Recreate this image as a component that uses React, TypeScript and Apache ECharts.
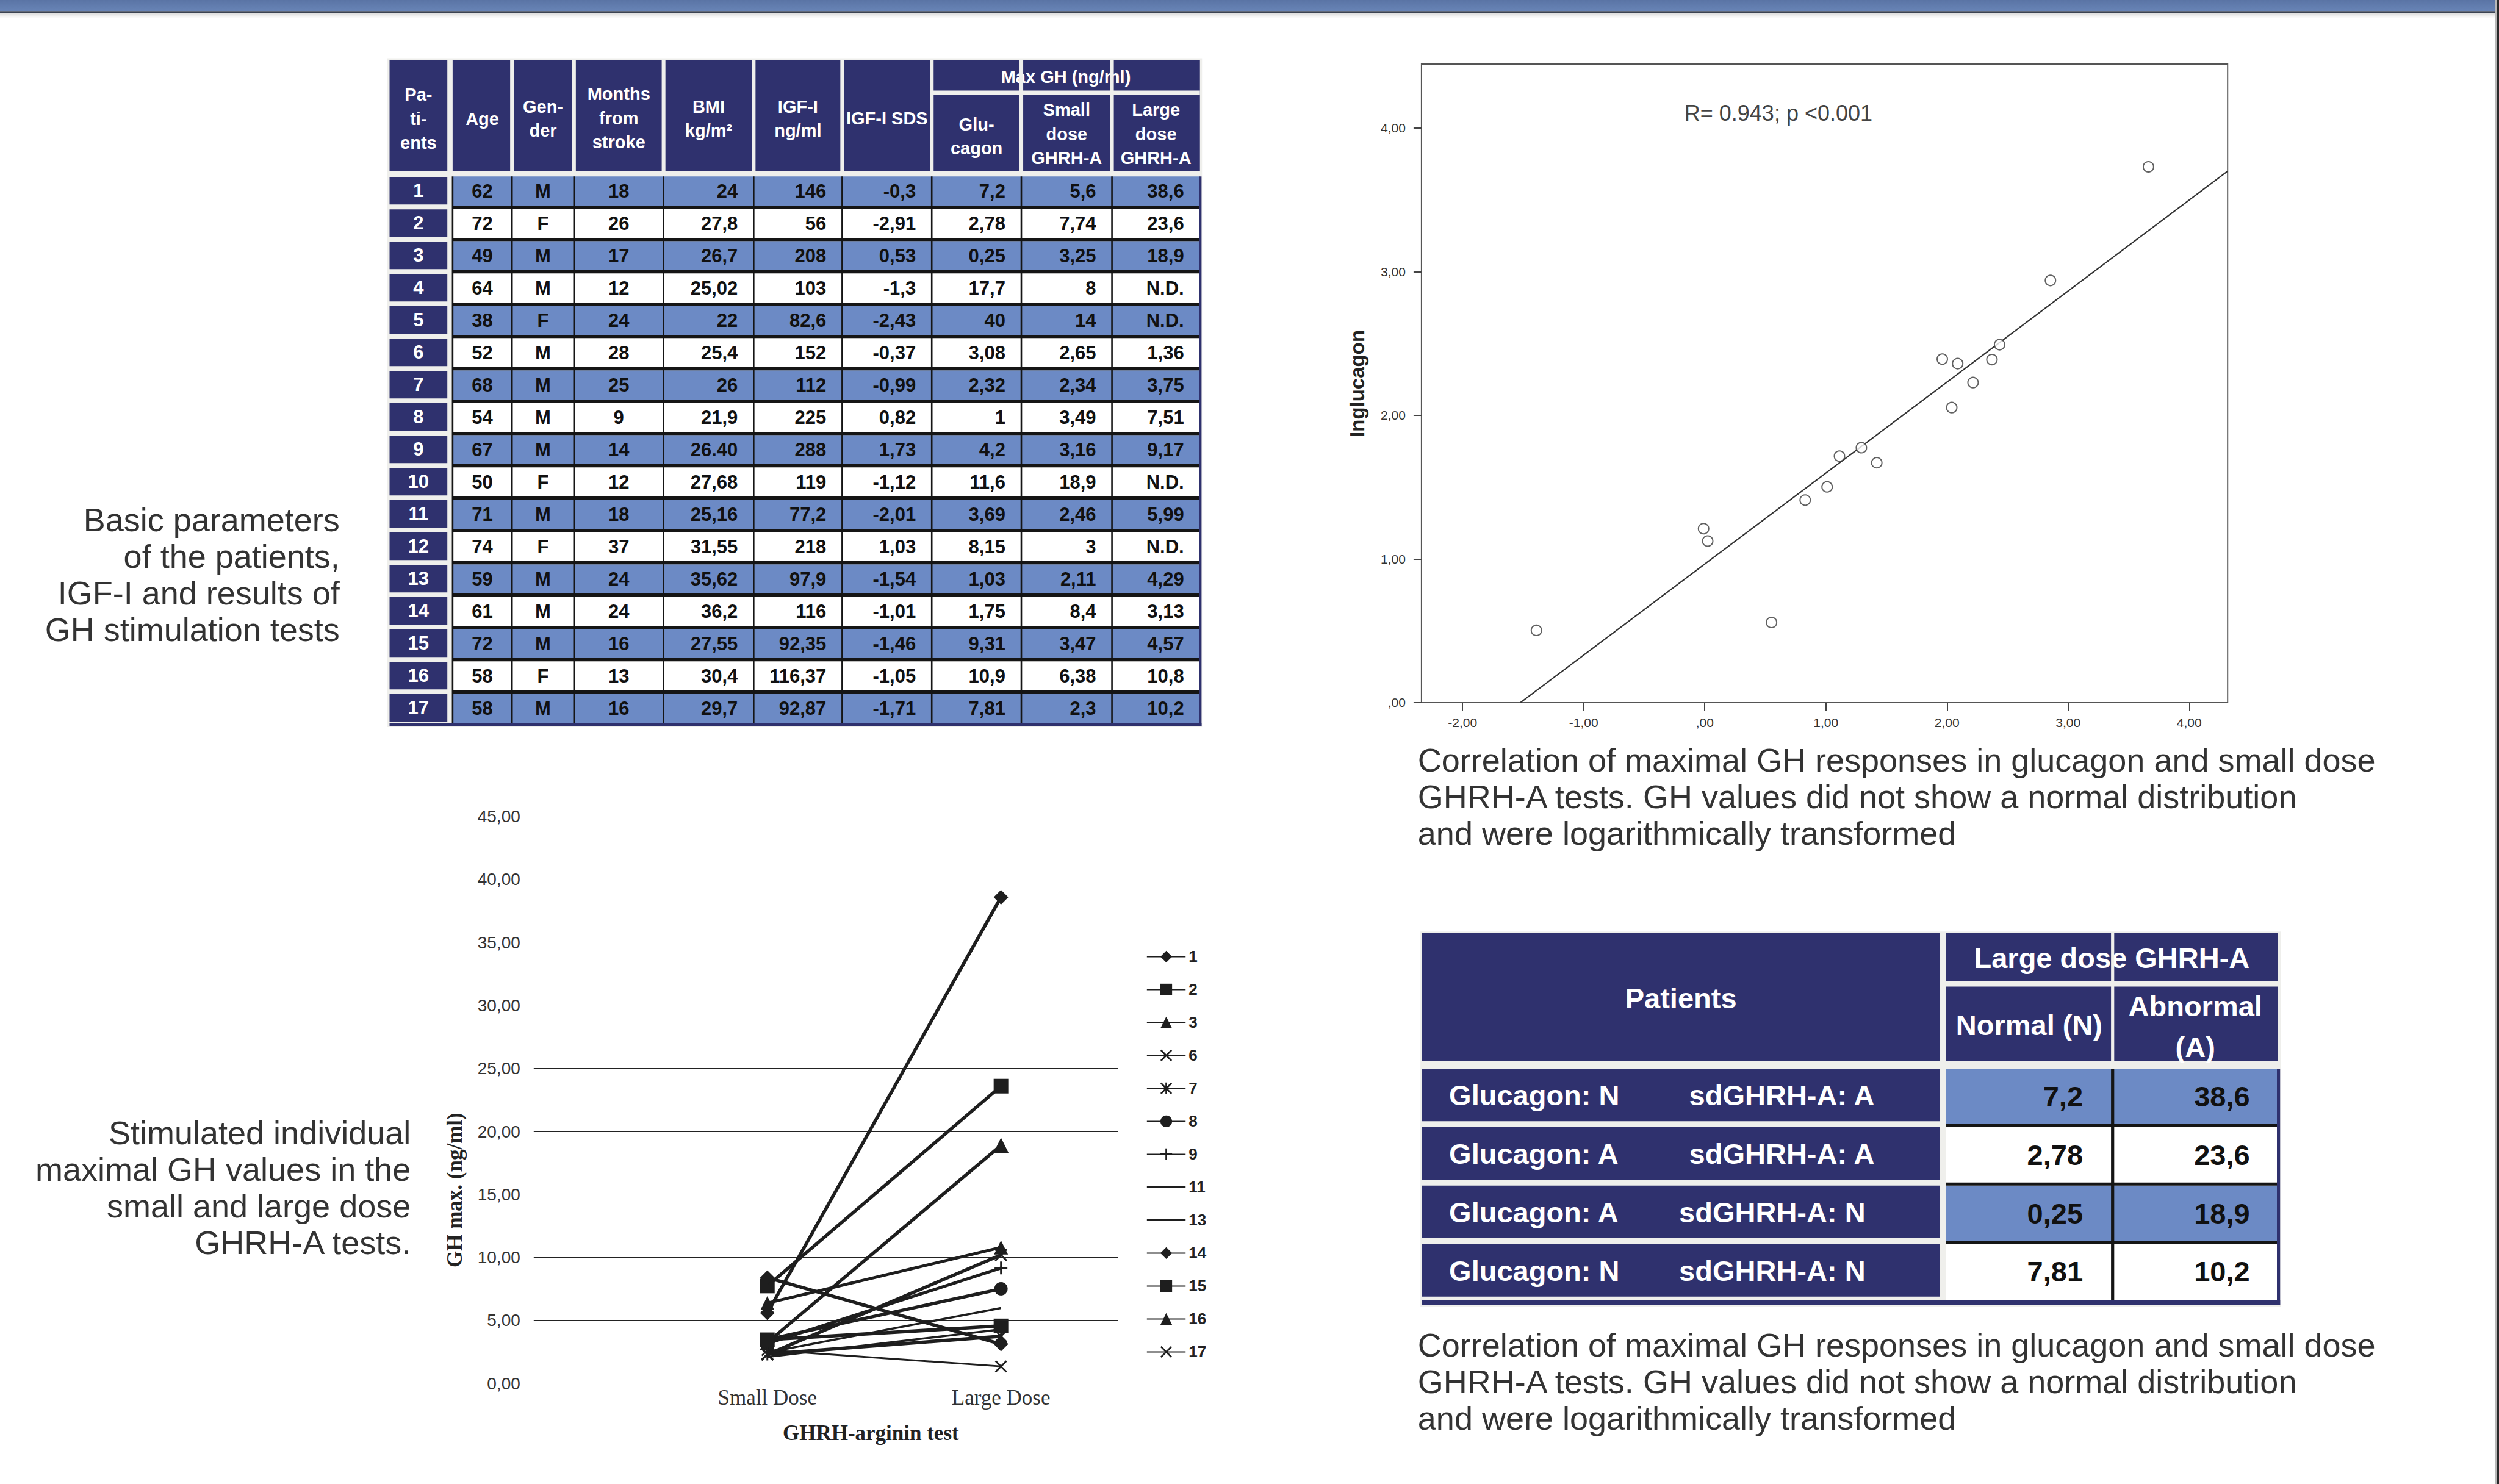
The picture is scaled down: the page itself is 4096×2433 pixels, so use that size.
import React, { useEffect, useRef } from 'react';
import * as echarts from 'echarts';

// ---------------- data ----------------
const patientIds = [1, 2, 3, 4, 5, 6, 7, 8, 9, 10, 11, 12, 13, 14, 15, 16, 17];
const ages = [62, 72, 49, 64, 38, 52, 68, 54, 67, 50, 71, 74, 59, 61, 72, 58, 58];
const genders = ['M', 'F', 'M', 'M', 'F', 'M', 'M', 'M', 'M', 'F', 'M', 'F', 'M', 'M', 'M', 'F', 'M'];
const monthsFromStroke = [18, 26, 17, 12, 24, 28, 25, 9, 14, 12, 18, 37, 24, 24, 16, 13, 16];
const bmiTexts = ['24', '27,8', '26,7', '25,02', '22', '25,4', '26', '21,9', '26.40', '27,68', '25,16', '31,55', '35,62', '36,2', '27,55', '30,4', '29,7'];
const igf1 = [146, 56, 208, 103, 82.6, 152, 112, 225, 288, 119, 77.2, 218, 97.9, 116, 92.35, 116.37, 92.87];
const igf1Sds = [-0.3, -2.91, 0.53, -1.3, -2.43, -0.37, -0.99, 0.82, 1.73, -1.12, -2.01, 1.03, -1.54, -1.01, -1.46, -1.05, -1.71];
const glucagonMax = [7.2, 2.78, 0.25, 17.7, 40, 3.08, 2.32, 1, 4.2, 11.6, 3.69, 8.15, 1.03, 1.75, 9.31, 10.9, 7.81];
const smallDose = [5.6, 7.74, 3.25, 8, 14, 2.65, 2.34, 3.49, 3.16, 18.9, 2.46, 3, 2.11, 8.4, 3.47, 6.38, 2.3];
const largeDose: (number | null)[] = [38.6, 23.6, 18.9, null, null, 1.36, 3.75, 7.51, 9.17, null, 5.99, null, 4.29, 3.13, 4.57, 10.8, 10.2];

const tableHeaders = ['Pa-\nti-\nents', 'Age', 'Gen-\nder', 'Months\nfrom\nstroke', 'BMI\nkg/m²', 'IGF-I\nng/ml', 'IGF-I SDS', 'Glu-\ncagon', 'Small\ndose\nGHRH-A', 'Large\ndose\nGHRH-A'];
const groupHeader = 'Max GH (ng/ml)';

const scatterX = [-1.39, 0.551, -0.01, 0.024, 0.829, 1.01, 1.112, 1.293, 1.42, 1.961, 2.088, 2.039, 2.215, 2.371, 2.434, 2.854, 3.663];
const scatterY = [0.503, 0.558, 1.211, 1.125, 1.41, 1.502, 1.716, 1.775, 1.67, 2.391, 2.36, 2.054, 2.228, 2.388, 2.492, 2.939, 3.73];
const fitLineX = [-1.522, 4.317];
const fitLineY = [0, 3.7];
const scatterXTicks = [-2, -1, 0, 1, 2, 3, 4];
const scatterYTicks = [0, 1, 2, 3, 4];
const scatterYName = 'Inglucagon';
const scatterNote = 'R= 0.943; p <0.001';

const doseCategories = ['Small Dose', 'Large Dose'];
const doseGridLines = [5, 10, 20, 25];

const summaryGlucagon = ['N', 'A', 'A', 'N'];
const summarySd = ['A', 'A', 'N', 'N'];
const summaryNormal = [7.2, 2.78, 0.25, 7.81];
const summaryAbnormal = [38.6, 23.6, 18.9, 10.2];

const caption1 = 'Basic parameters\nof the patients,\nIGF-I and results of\nGH stimulation tests';
const caption2 = 'Stimulated individual\nmaximal GH values in the\nsmall and large dose\nGHRH-A tests.';
const caption3 = 'Correlation of maximal GH responses in glucagon and small dose\nGHRH-A tests. GH values did not show a normal distribution\nand were logarithmically transformed';

// ---------------- styles ----------------
const S = 4096 / 4715;
const s = (v: number) => v * S;
const SANS = '"Liberation Sans", Arial, Helvetica, sans-serif';
const SERIF = '"Liberation Serif", "Times New Roman", serif';
const NAVY = '#2f316e';
const BLUE = '#6c8ac5';
const LIGHT = '#efefec';
const BLACK = '#151515';
const fmt = (v: number) => String(v).replace('.', ',');

const X_PATH = 'path://M0,1L1,0L5,4L9,0L10,1L6,5L10,9L9,10L5,6L1,10L0,9L4,5Z';
const AST_PATH = 'path://M0,1L1,0L5,4L9,0L10,1L6,5L10,9L9,10L5,6L1,10L0,9L4,5Z M4.3,0H5.7V10H4.3Z';
const PLUS_PATH = 'path://M4.3,0H5.7V4.3H10V5.7H5.7V10H4.3V5.7H0V4.3H4.3Z';
const LINE_ICON = 'path://M0,0H60V3H0Z';
const markerStyle: Record<number, [string, number, number]> = {
  1: ['diamond', 24, 5.5], 2: ['rect', 24, 5.5], 3: ['triangle', 25, 5.5], 6: [X_PATH, 20, 3],
  7: [AST_PATH, 21, 5.5], 8: ['circle', 22, 5.5], 9: [PLUS_PATH, 21, 5], 11: ['none', 0, 3.5],
  13: ['none', 0, 3.5], 14: ['diamond', 24, 5.5], 15: ['rect', 24, 5.5], 16: ['triangle', 23, 5], 17: [X_PATH, 21, 5.5],
};

function buildGraphics() {
  const g: any[] = [];
  const rect = (x: number, y: number, w: number, h: number, fill: any, z = 1) =>
    g.push({ type: 'rect', silent: true, z, shape: { x: s(x), y: s(y), width: s(w), height: s(h) }, style: { fill } });
  const txt = (x: number, y: number, str: string, size: number, o: any = {}) =>
    g.push({
      type: 'text', silent: true, z: o.z ?? 5, x: s(x), y: s(y), rotation: o.rot || 0,
      style: {
        text: str, fill: o.fill || '#333',
        font: `${o.weight || 'normal'} ${size}px ${o.family || SANS}`,
        textAlign: o.align || 'center', align: o.align || 'center',
        textVerticalAlign: 'middle', verticalAlign: 'middle',
        lineHeight: o.lh,
      },
    });

  // page chrome
  rect(0, 0, 4715, 21, new echarts.graphic.LinearGradient(0, 0, 0, 1, [{ offset: 0, color: '#5a74a5' }, { offset: 1, color: '#6884b6' }]), 10);
  rect(0, 21, 4715, 3.5, '#3b4352', 10);
  rect(0, 24.5, 4715, 10, new echarts.graphic.LinearGradient(0, 0, 0, 1, [{ offset: 0, color: 'rgba(0,0,0,0.14)' }, { offset: 1, color: 'rgba(0,0,0,0)' }]), 10);
  rect(4708, 0, 3, 2801, '#b8b8b8', 10);
  rect(4711, 0, 4, 2801, '#2a2a2a', 10);

  // captions
  txt(641, 1084, caption1, 54, { align: 'right', lh: 60, fill: '#333' });
  txt(775, 2241, caption2, 54, { align: 'right', lh: 60, fill: '#333' });
  txt(2675, 1503, caption3, 54, { align: 'left', lh: 60, fill: '#333' });
  txt(2675, 2607, caption3, 54, { align: 'left', lh: 60, fill: '#333' });

  // ---------- main table ----------
  const bounds = [854, 966, 1083, 1252, 1422, 1589, 1758, 1927, 2098, 2264];
  const rowTop = 333, pitch = 61, cellH = 55;
  const nRows = patientIds.length;
  const tableBottom = rowTop + (nRows - 1) * pitch + cellH;
  rect(731, 110, 2268 - 731, tableBottom + 8 - 110, LIGHT, 0);
  rect(735, 113, 2264 - 735, 323 - 113, NAVY, 1);
  const headY = [224, 225, 224, 223, 224, 224, 223, 257, 253, 253];
  tableHeaders.forEach((h, c) => {
    const cx = c === 0 ? 789.5 : (bounds[c - 1] + bounds[c]) / 2;
    txt(cx, headY[c], h, 29, { weight: 'bold', fill: '#fff', lh: 39.5 });
  });
  txt((1758 + 2264) / 2, 145, groupHeader, 29, { weight: 'bold', fill: '#fff' });
  rect(844, 113, 10, 210, LIGHT, 6);
  for (let i = 1; i < bounds.length - 1; i++) rect(bounds[i] - 3.5, 113, 7, 210, LIGHT, 6);
  rect(1758 + 3, 171, 2264 - 1761, 8, LIGHT, 6);

  const colTexts: string[][] = [
    ages.map(String), genders, monthsFromStroke.map(String), bmiTexts, igf1.map(fmt), igf1Sds.map(fmt),
    glucagonMax.map(fmt), smallDose.map(fmt), largeDose.map((v) => (v == null ? 'N.D.' : fmt(v))),
  ];
  const colAlign = ['center', 'center', 'center', 'right', 'right', 'right', 'right', 'right', 'right'];
  patientIds.forEach((p, i) => {
    const y0 = rowTop + i * pitch;
    rect(735, y0 + 1, 109, 52, NAVY, 2);
    txt(789.5, y0 + 27, String(p), 31, { weight: 'bold', fill: '#fff' });
    rect(854, y0, 2264 - 854, cellH, i % 2 === 0 ? BLUE : '#ffffff', 2);
    if (i < nRows - 1) rect(854, y0 + cellH, 2264 - 854, pitch - cellH, BLACK, 3);
    colTexts.forEach((col, c) => {
      const x = colAlign[c] === 'center' ? (bounds[c] + bounds[c + 1]) / 2 : bounds[c + 1] - 30;
      txt(x, y0 + 28, col[i], 31, { weight: 'bold', fill: '#111', align: colAlign[c] });
    });
  });
  for (let i = 0; i < bounds.length - 1; i++) rect(bounds[i] - 1.5, rowTop, 3, tableBottom - rowTop, BLACK, 3);
  rect(2262, rowTop, 5, tableBottom + 6 - rowTop, NAVY, 4);
  rect(735, tableBottom, 2267 - 735, 6, NAVY, 4);

  // ---------- summary table ----------
  const L = 2683, PR = 3660, NL = 3671, MID = 3986, RR = 4298;
  const sTop = 2017, sPitch = 110.3, sCell = 99;
  const sBottom = sTop + summaryNormal.length * sPitch - 4;
  rect(2680, 1758, 4303 - 2680, sBottom + 12 - 1758, LIGHT, 0);
  rect(L, 1761, RR - L, 2003 - 1761, NAVY, 1);
  txt((L + PR) / 2, 1884, 'Patients', 47, { weight: 'bold', fill: '#fff' });
  txt((NL + RR) / 2, 1808, 'Large dose GHRH-A', 47, { weight: 'bold', fill: '#fff' });
  txt((NL + MID) / 2, 1935, 'Normal (N)', 47, { weight: 'bold', fill: '#fff' });
  txt((MID + RR) / 2, 1937, 'Abnormal\n(A)', 47, { weight: 'bold', fill: '#fff', lh: 67 });
  rect(PR, 1761, NL - PR, 242, LIGHT, 6);
  rect(MID - 3, 1761, 6, 242, LIGHT, 6);
  rect(NL, 1851, RR - NL, 11, LIGHT, 6);
  const sdLeft: Record<string, number> = { A: 3187, N: 3168 };
  summaryNormal.forEach((v, i) => {
    const y0 = sTop + i * sPitch;
    rect(L, y0, PR - L, sCell, NAVY, 2);
    rect(NL, y0, RR - NL, sPitch, i % 2 === 0 ? BLUE : '#ffffff', 2);
    if (i < summaryNormal.length - 1) rect(NL, y0 + sPitch - 6, RR - NL, 6, BLACK, 3);
    txt(2734, y0 + 50, `Glucagon: ${summaryGlucagon[i]}`, 47, { weight: 'bold', fill: '#fff', align: 'left' });
    txt(sdLeft[summarySd[i]], y0 + 50, `sdGHRH-A: ${summarySd[i]}`, 47, { weight: 'bold', fill: '#fff', align: 'left' });
    txt(3930, y0 + 52, fmt(v), 47, { weight: 'bold', fill: '#111', align: 'right' });
    txt(4245, y0 + 52, fmt(summaryAbnormal[i]), 47, { weight: 'bold', fill: '#111', align: 'right' });
  });
  rect(MID - 3, sTop, 6, sBottom - sTop, BLACK, 3);
  rect(4296, sTop, 6, sBottom + 9 - sTop, NAVY, 4);
  rect(L, sBottom, 4302 - L, 9, NAVY, 4);

  // ---------- chart annotations ----------
  txt(3178, 214, scatterNote, 36, { align: 'left', fill: '#444' });
  txt(2561, 724, scatterYName, 33, { weight: 'bold', fill: '#222', rot: Math.PI / 2 });
  txt(858, 2246, 'GH max. (ng/ml)', 35, { weight: 'bold', fill: '#222', rot: Math.PI / 2, family: SERIF });
  txt(1643, 2704, 'GHRH-arginin test', 35, { weight: 'bold', fill: '#222', family: SERIF });
  return g;
}

function buildOption() {
  const tickFmt = (v: number) => (v === 0 ? ',00' : v.toFixed(2).replace('.', ','));
  const included = patientIds.map((p, i) => ({ p, i })).filter(({ i }) => largeDose[i] != null);
  const lineSeries = included.map(({ p, i }, k) => {
    const [sym, size, width] = markerStyle[p];
    const ser: any = {
      type: 'line', name: String(p), xAxisIndex: 1, yAxisIndex: 1, silent: true, z: 3,
      data: [[1, smallDose[i]], [2, largeDose[i]]],
      symbol: sym, symbolSize: size, showSymbol: sym !== 'none',
      lineStyle: { color: '#1e1e1e', width },
      itemStyle: { color: '#1e1e1e' },
    };
    if (k === 0) {
      ser.markLine = {
        silent: true, symbol: ['none', 'none'], label: { show: false },
        lineStyle: { color: '#222', width: 1.8, type: 'solid' },
        data: doseGridLines.map((v) => ({ yAxis: v })),
      };
    }
    return ser;
  });

  return {
    animation: false,
    backgroundColor: '#ffffff',
    graphic: { elements: buildGraphics() },
    legend: {
      orient: 'vertical', left: s(2157), top: s(1802) - 15, itemWidth: s(73), itemHeight: 24, itemGap: 28,
      selectedMode: false,
      data: included.map(({ p }) => (markerStyle[p][0] === 'none' ? { name: String(p), icon: LINE_ICON } : String(p))),
      textStyle: { fontSize: 26, fontWeight: 'bold', color: '#222', fontFamily: SANS },
    },
    grid: [
      { left: s(2682), top: s(121), width: s(1521), height: s(1205), show: true, backgroundColor: '#fff', borderColor: '#555', borderWidth: 2, outerBoundsMode: 'none' },
      { left: s(1007), top: s(1541), width: s(1102), height: s(1070), outerBoundsMode: 'none' },
    ],
    xAxis: [
      {
        type: 'value', gridIndex: 0, min: -2.339, max: 4.317,
        axisLine: { show: false, onZero: false }, splitLine: { show: false },
        axisTick: { show: true, customValues: scatterXTicks, length: 13, lineStyle: { color: '#444', width: 2 } },
        axisLabel: { customValues: scatterXTicks, formatter: tickFmt, fontSize: 21, color: '#333', margin: 22, fontFamily: SANS },
      },
      {
        type: 'value', gridIndex: 1, min: 0, max: 2.5,
        axisLine: { show: false, onZero: false }, splitLine: { show: false }, axisTick: { show: false },
        axisLabel: { customValues: [1, 2], formatter: (v: number) => doseCategories[Math.round(v) - 1] || '', fontSize: 35, color: '#333', margin: 6, fontFamily: SERIF },
      },
    ],
    yAxis: [
      {
        type: 'value', gridIndex: 0, min: 0, max: 4.445,
        axisLine: { show: false, onZero: false }, splitLine: { show: false },
        axisTick: { show: true, customValues: scatterYTicks, length: 13, lineStyle: { color: '#444', width: 2 } },
        axisLabel: { customValues: scatterYTicks, formatter: tickFmt, fontSize: 21, color: '#333', margin: 26, fontFamily: SANS },
      },
      {
        type: 'value', gridIndex: 1, min: 0, max: 45, interval: 5,
        axisLine: { show: false, onZero: false }, splitLine: { show: false }, axisTick: { show: false },
        axisLabel: { formatter: (v: number) => v.toFixed(2).replace('.', ','), fontSize: 28, color: '#333', margin: 22, fontFamily: SANS },
      },
    ],
    series: [
      {
        type: 'line', name: 'fit', xAxisIndex: 0, yAxisIndex: 0, silent: true, z: 3,
        data: fitLineX.map((x, i) => [x, fitLineY[i]]), symbol: 'none', lineStyle: { color: '#333', width: 2.2 },
      },
      {
        type: 'scatter', name: 'points', xAxisIndex: 0, yAxisIndex: 0, silent: true, z: 4,
        data: scatterX.map((x, i) => [x, scatterY[i]]), symbol: 'circle', symbolSize: 17,
        itemStyle: { color: '#fff', borderColor: '#3a3a3a', borderWidth: 2 },
      },
      ...lineSeries,
    ],
  };
}

export default function App() {
  const ref = useRef<HTMLDivElement>(null);
  useEffect(() => {
    document.body.style.margin = '0';
    const chart = echarts.init(ref.current!, null, { renderer: 'svg', width: 4096, height: 2433 });
    chart.setOption(buildOption() as any);
    return () => chart.dispose();
  }, []);
  return <div ref={ref} style={{ position: 'absolute', left: 0, top: 0, width: 4096, height: 2433, background: '#fff' }} />;
}
